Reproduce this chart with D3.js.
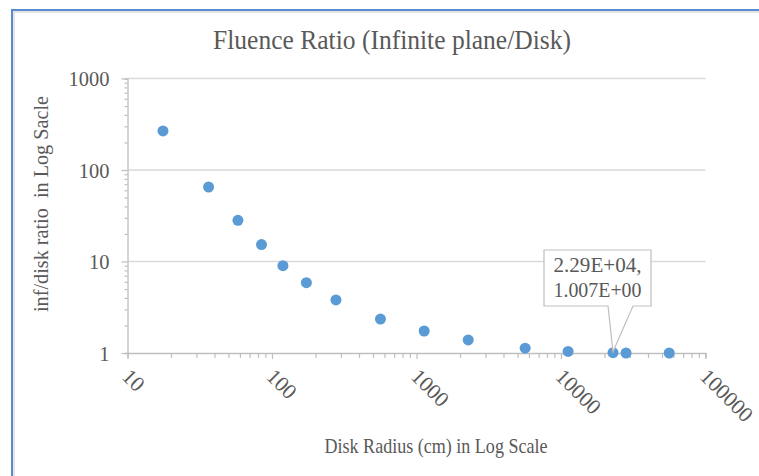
<!DOCTYPE html>
<html>
<head>
<meta charset="utf-8">
<script src="https://cdn.jsdelivr.net/npm/d3@7"></script>
<style>
    body { margin: 0; background: #fff; }
    text { font-family: 'Liberation Serif', 'Times New Roman', serif; fill: #595959; }
</style>
</head>
<body>
<svg class="chart" width="759" height="476"></svg>
<script>
// disk radius (cm) and infinite-plane/disk fluence ratio
const radius = [17.6, 36.4, 58.1, 84.6, 119, 173, 277, 563, 1130, 2280, 5650, 11200, 22900, 28200, 56100];
const ratio = [267, 65.2, 28.2, 15.3, 9.0, 5.87, 3.8, 2.35, 1.74, 1.39, 1.13, 1.04, 1.007, 1.0, 1.0];
const xTickLabels = ['10', '100', '1000', '10000', '100000'];
const yTickLabels = ['1', '10', '100', '1000'];
const callout = { x: 22900, y: 1.007, lines: ['2.29E+04,', '1.007E+00'] };

const svg = d3.select('.chart');

// chart frame (blue edge + faint inner shadow)
svg.append('path').attr('d', 'M14,480V12H760').attr('fill', 'none').attr('stroke', '#dcdcdc').attr('stroke-width', 1.5);
svg.append('path').attr('d', 'M12,480V10H760').attr('fill', 'none').attr('stroke', '#5a8bd0').attr('stroke-width', 2);

const x = d3.scaleLog().domain([10, 100000]).range([127.5, 705.5]);
const y = d3.scaleLog().domain([1, 1000]).range([353, 78.5]);

const isMajor = function(v) {
    return Math.abs(Math.log10(v) - Math.round(Math.log10(v))) < 1e-9;
};

// horizontal gridlines
svg.append('g')
    .selectAll('line')
    .data(yTickLabels.map(Number).filter(function(v) { return v > 1; }))
    .enter().append('line')
    .attr('x1', x(10)).attr('x2', x(100000))
    .attr('y1', function(d) { return y(d); })
    .attr('y2', function(d) { return y(d); })
    .attr('stroke', '#d9d9d9').attr('stroke-width', 1.3);

// x axis
const xAxis = svg.append('g')
    .attr('transform', 'translate(0,' + y(1) + ')')
    .call(d3.axisBottom(x).tickValues(x.ticks()).tickSize(5).tickFormat(''));
xAxis.select('.domain').attr('stroke', '#bfbfbf').attr('stroke-width', 1.3);
xAxis.selectAll('.tick line').attr('stroke', '#bfbfbf').attr('stroke-width', 1.2)
    .attr('y2', function(d) { return isMajor(d) ? 6 : 5; });

svg.append('g')
    .selectAll('text')
    .data(xTickLabels)
    .enter().append('text')
    .attr('transform', function(d) {
        return 'translate(' + (x(+d) + 4) + ',' + (y(1) + 14) + ') rotate(45)';
    })
    .attr('font-size', '21.5px')
    .attr('dy', '0.7em')
    .text(function(d) { return d; });

// y axis
const yAxis = svg.append('g')
    .attr('transform', 'translate(' + x(10) + ',0)')
    .call(d3.axisLeft(y).tickValues(y.ticks()).tickSize(3).tickFormat(''));
yAxis.select('.domain').attr('stroke', '#bfbfbf').attr('stroke-width', 1.3);
yAxis.selectAll('.tick line').attr('stroke', '#bfbfbf').attr('stroke-width', 1.2)
    .attr('x2', function(d) { return isMajor(d) ? -6 : -3; });

svg.append('g')
    .selectAll('text')
    .data(yTickLabels)
    .enter().append('text')
    .attr('transform', function(d) {
        return 'translate(' + (x(10) - 18) + ',' + y(+d) + ') scale(0.93,1)';
    })
    .attr('dy', '0.35em')
    .attr('text-anchor', 'end')
    .attr('font-size', '22px')
    .text(function(d) { return d; });

// titles
svg.append('text')
    .attr('x', 392).attr('y', 49)
    .attr('text-anchor', 'middle')
    .attr('font-size', '26.5px')
    .attr('textLength', 358).attr('lengthAdjust', 'spacingAndGlyphs')
    .text('Fluence Ratio (Infinite plane/Disk)');

svg.append('text')
    .attr('x', 436).attr('y', 453)
    .attr('text-anchor', 'middle')
    .attr('font-size', '21px')
    .attr('textLength', 223).attr('lengthAdjust', 'spacingAndGlyphs')
    .text('Disk Radius (cm) in Log Scale');

svg.append('text')
    .attr('transform', 'translate(48,204) rotate(-90)')
    .attr('text-anchor', 'middle')
    .attr('font-size', '21px')
    .attr('textLength', 216).attr('lengthAdjust', 'spacingAndGlyphs')
    .attr('xml:space', 'preserve')
    .text('inf/disk ratio  in Log Sacle');

// points
svg.append('g')
    .selectAll('circle')
    .data(radius.map(function(r, i) { return { r: r, v: ratio[i] }; }))
    .enter().append('circle')
    .attr('cx', function(d) { return x(d.r); })
    .attr('cy', function(d) { return y(d.v); })
    .attr('r', 5.5)
    .attr('fill', '#5b9bd5');

// data callout
const px = x(callout.x), py = y(callout.y);
const box = { x0: 544, x1: 651, y0: 250, y1: 306 };
svg.append('path')
    .attr('d', 'M' + box.x0 + ',' + box.y0 + 'H' + box.x1 + 'V' + box.y1 + 'H633L' + px + ',' + (py - 1) + 'L608,' + box.y1 + 'H' + box.x0 + 'Z')
    .attr('fill', '#fff').attr('stroke', '#bfbfbf').attr('stroke-width', 1.2);
svg.append('text')
    .attr('x', (box.x0 + box.x1) / 2).attr('y', 272)
    .attr('text-anchor', 'middle')
    .attr('font-size', '21px')
    .selectAll('tspan')
    .data(callout.lines)
    .enter().append('tspan')
    .attr('x', (box.x0 + box.x1) / 2)
    .attr('dy', function(d, i) { return i ? 25 : 0; })
    .attr('textLength', 88).attr('lengthAdjust', 'spacingAndGlyphs')
    .text(function(d) { return d; });
</script>
</body>
</html>
